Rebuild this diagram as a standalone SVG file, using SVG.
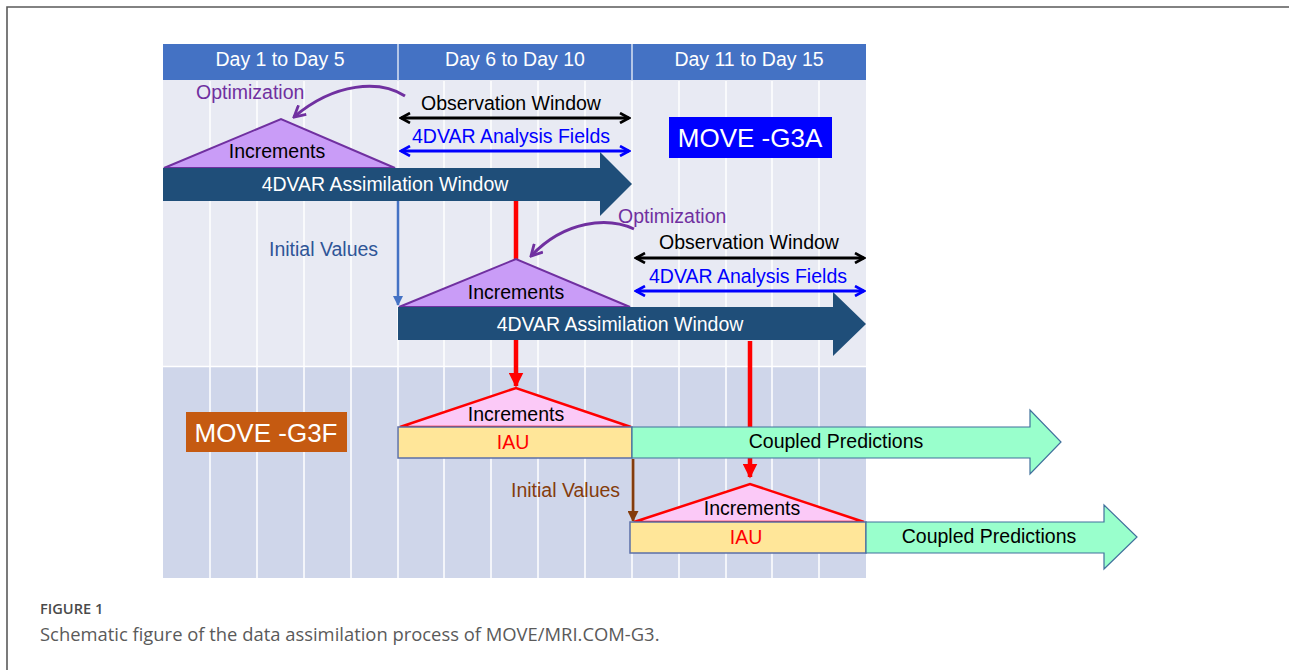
<svg xmlns="http://www.w3.org/2000/svg" width="1289" height="670" viewBox="0 0 1289 670">
<defs>
<style>
text{font-family:"Liberation Sans",Arial,sans-serif;font-size:19.5px}
.c{text-anchor:middle}
.w{fill:#fff}
.k{fill:#000}
.p{fill:#7030a0}
.grid line{stroke:#fff;stroke-width:1.5}
.tri1{fill:#c99cf7;stroke:#7030a0;stroke-width:2}
.tri2{fill:#fbc9f7;stroke:#ff0000;stroke-width:2.5}
.da{fill:#1f4e79}
.iau{fill:#ffe699;stroke:#5b6fa8;stroke-width:1.5}
.cp{fill:#99ffcc;stroke:#41719c;stroke-width:1.2}
</style>
<marker id="chk" viewBox="0 0 12 12" refX="10" refY="6" markerWidth="12" markerHeight="12" markerUnits="userSpaceOnUse" orient="auto-start-reverse"><path d="M1,1 L10,6 L1,11" fill="none" stroke="#000" stroke-width="2.6"/></marker>
<marker id="chb" viewBox="0 0 12 12" refX="10" refY="6" markerWidth="12" markerHeight="12" markerUnits="userSpaceOnUse" orient="auto-start-reverse"><path d="M1,1 L10,6 L1,11" fill="none" stroke="#0000ff" stroke-width="2.6"/></marker>
<marker id="chp" viewBox="0 0 14 14" refX="12" refY="7" markerWidth="14" markerHeight="14" markerUnits="userSpaceOnUse" orient="auto"><path d="M1,1 L12,7 L1,13" fill="none" stroke="#7030a0" stroke-width="2.8"/></marker>
<marker id="fr" viewBox="0 0 10 10" refX="9" refY="5" markerWidth="15" markerHeight="15" markerUnits="userSpaceOnUse" orient="auto"><path d="M0,0 L10,5 L0,10 Z" fill="#ff0000"/></marker>
<marker id="fb" viewBox="0 0 10 10" refX="9" refY="5" markerWidth="10" markerHeight="10" markerUnits="userSpaceOnUse" orient="auto"><path d="M0,0 L10,5 L0,10 Z" fill="#4472c4"/></marker>
<marker id="fbr" viewBox="0 0 10 10" refX="9" refY="5" markerWidth="11" markerHeight="11" markerUnits="userSpaceOnUse" orient="auto"><path d="M0,0 L10,5 L0,10 Z" fill="#843c0c"/></marker>
</defs>
<rect width="1289" height="670" fill="#fff"/>
<path d="M7,670 L7,7 L1289,7" fill="none" stroke="#5a5a5a" stroke-width="1.6"/>

<g id="background">
<rect x="163" y="44" width="703" height="36" fill="#4472c4"/>
<rect x="163" y="80" width="703" height="287" fill="#e8eaf3"/>
<rect x="163" y="367" width="703" height="211" fill="#cfd6ea"/>
<line x1="163" y1="366.5" x2="866" y2="366.5" stroke="#fff" stroke-width="1.5"/>
<line x1="398" y1="44" x2="398" y2="80" stroke="#fff" stroke-width="1.2"/>
<line x1="632" y1="44" x2="632" y2="80" stroke="#fff" stroke-width="1.2"/>
<g class="grid">
<line x1="210" y1="81" x2="210" y2="578"/><line x1="257" y1="81" x2="257" y2="578"/><line x1="304" y1="81" x2="304" y2="578"/><line x1="351" y1="81" x2="351" y2="578"/><line x1="398" y1="81" x2="398" y2="578"/><line x1="444" y1="81" x2="444" y2="578"/><line x1="491" y1="81" x2="491" y2="578"/><line x1="538" y1="81" x2="538" y2="578"/><line x1="585" y1="81" x2="585" y2="578"/><line x1="632" y1="81" x2="632" y2="578"/><line x1="679" y1="81" x2="679" y2="578"/><line x1="726" y1="81" x2="726" y2="578"/><line x1="772" y1="81" x2="772" y2="578"/><line x1="819" y1="81" x2="819" y2="578"/>
</g>
<text class="c w" x="280" y="66">Day 1 to Day 5</text>
<text class="c w" x="515" y="66">Day 6 to Day 10</text>
<text class="c w" x="749" y="66">Day 11 to Day 15</text>
</g>

<g id="connectors">
<line x1="516" y1="201" x2="516" y2="259" stroke="#ff0000" stroke-width="4.5"/>
<line x1="516" y1="340" x2="516" y2="386" stroke="#ff0000" stroke-width="4.5" marker-end="url(#fr)"/>
<line x1="750" y1="341" x2="750" y2="477" stroke="#ff0000" stroke-width="4.5" marker-end="url(#fr)"/>
<line x1="398" y1="201" x2="398" y2="305" stroke="#4472c4" stroke-width="2.5" marker-end="url(#fb)"/>
<line x1="633" y1="459" x2="633" y2="521" stroke="#843c0c" stroke-width="2.8" marker-end="url(#fbr)"/>
<path d="M405,96 C380,80 335,82 294,117" fill="none" stroke="#7030a0" stroke-width="3" marker-end="url(#chp)"/>
<path d="M634,229 C608,217 565,220 531,256" fill="none" stroke="#7030a0" stroke-width="3" marker-end="url(#chp)"/>
<line x1="401" y1="118" x2="629" y2="118" stroke="#000" stroke-width="2.8" marker-start="url(#chk)" marker-end="url(#chk)"/>
<line x1="401" y1="151" x2="629" y2="151" stroke="#0000ff" stroke-width="2.8" marker-start="url(#chb)" marker-end="url(#chb)"/>
<line x1="636" y1="258" x2="864" y2="258" stroke="#000" stroke-width="2.8" marker-start="url(#chk)" marker-end="url(#chk)"/>
<line x1="636" y1="291" x2="864" y2="291" stroke="#0000ff" stroke-width="2.8" marker-start="url(#chb)" marker-end="url(#chb)"/>
<text class="p" x="196" y="99">Optimization</text>
<text class="p" x="618" y="223">Optimization</text>
<text class="c k" x="511" y="110">Observation Window</text>
<text class="c" x="511" y="143" fill="#0000ff">4DVAR Analysis Fields</text>
<text class="c k" x="749" y="249">Observation Window</text>
<text class="c" x="748" y="283" fill="#0000ff">4DVAR Analysis Fields</text>
<text x="269" y="256" fill="#2f5597">Initial Values</text>
<text x="511" y="497" fill="#843c0c">Initial Values</text>
</g>

<g id="g3a-label">
<rect x="669" y="117" width="163" height="41" fill="#0000ff"/>
<text class="c w" x="750" y="147" style="font-size:26px">MOVE -G3A</text>
</g>

<g id="increments-a1">
<polygon class="tri1" points="164,168 281,119 395,168"/>
<text class="c k" x="277" y="158">Increments</text>
</g>
<g id="window-a1">
<polygon class="da" points="163,168 600,168 600,152 632,184 600,216 600,201 163,201"/>
<text class="c w" x="385" y="191">4DVAR Assimilation Window</text>
</g>

<g id="increments-a2">
<polygon class="tri1" points="399,307 516,259 630,307"/>
<text class="c k" x="516" y="299">Increments</text>
</g>
<g id="window-a2">
<polygon class="da" points="398,307 833,307 833,292 866,324 833,356 833,340 398,340"/>
<text class="c w" x="620" y="331">4DVAR Assimilation Window</text>
</g>

<g id="g3f-label">
<rect x="186" y="412" width="161" height="40" fill="#c55a11"/>
<text class="c w" x="266" y="442" style="font-size:26px">MOVE -G3F</text>
</g>

<g id="increments-f1">
<polygon class="tri2" points="400,427 516,388 631,427"/>
<text class="c k" x="516" y="421">Increments</text>
</g>
<g id="iau-f1">
<rect class="iau" x="398" y="427" width="234" height="31"/>
<text class="c" x="513" y="449" fill="#ff0000">IAU</text>
</g>
<g id="pred-f1">
<polygon class="cp" points="632,427 1030,427 1030,410 1061,442 1030,474 1030,458 632,458"/>
<text class="c k" x="836" y="448">Coupled Predictions</text>
</g>

<g id="increments-f2">
<polygon class="tri2" points="634,522 750,484 864,522"/>
<text class="c k" x="752" y="515">Increments</text>
</g>
<g id="iau-f2">
<rect class="iau" x="630" y="522" width="236" height="31"/>
<text class="c" x="746" y="544" fill="#ff0000">IAU</text>
</g>
<g id="pred-f2">
<polygon class="cp" points="866,522 1104,522 1104,505 1137,537 1104,569 1104,553 866,553"/>
<text class="c k" x="989" y="543">Coupled Predictions</text>
</g>

<g id="caption">
<text x="40" y="614" style="font-family:'Open Sans',sans-serif;font-size:14.6px;font-weight:600" fill="#4a4a4a">FIGURE 1</text>
<text x="40" y="641" style="font-family:'Open Sans',sans-serif;font-size:18.4px" fill="#5a5a5a">Schematic figure of the data assimilation process of MOVE/MRI.COM-G3.</text>
</g>
</svg>
